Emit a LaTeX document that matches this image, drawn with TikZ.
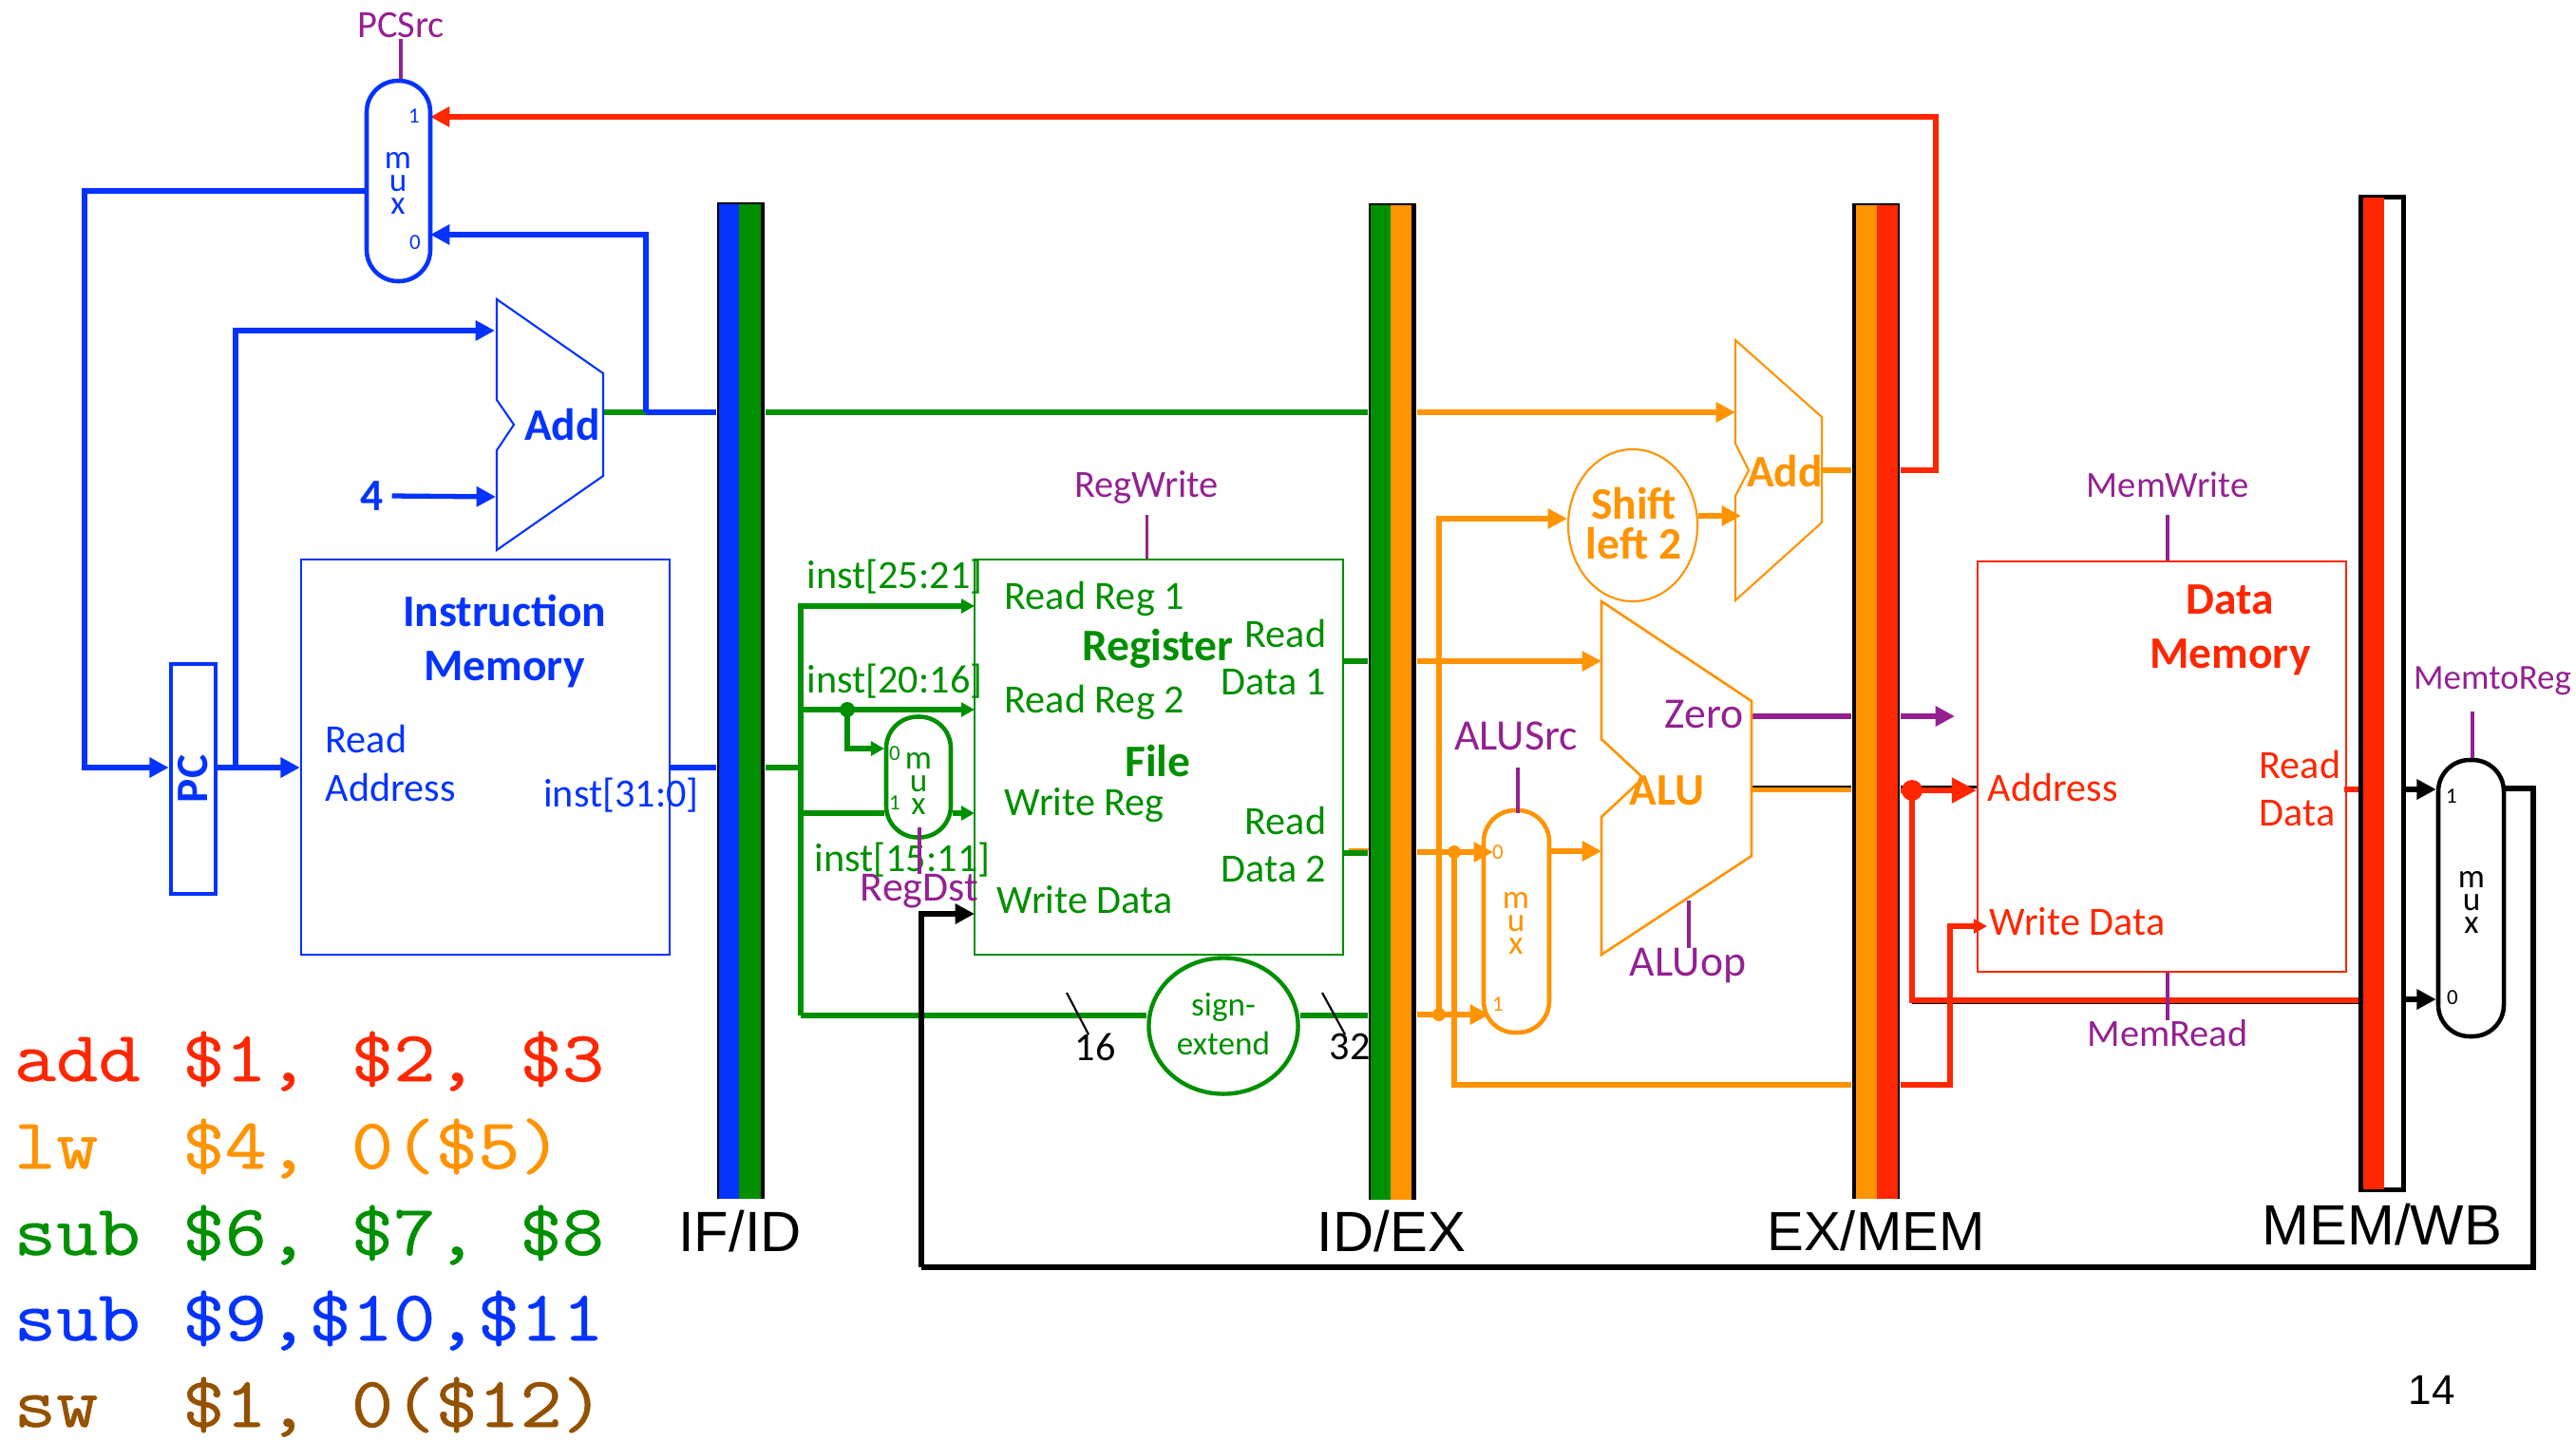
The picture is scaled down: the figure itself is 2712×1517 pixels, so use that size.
\documentclass[tikz,border=0pt]{standalone}
\usepackage{fontspec}
\setmainfont{Carlito}
\newfontfamily\headfont{Liberation Sans}
\newfontfamily\codefont[FakeStretch=1.14,FakeBold=0.6]{Latin Modern Mono}
\usetikzlibrary{arrows.meta,shapes.geometric,backgrounds}
\definecolor{stageblue}{RGB}{4,51,255}
\definecolor{stagegreen}{RGB}{0,143,0}
\definecolor{stageorange}{RGB}{255,147,0}
\definecolor{stagered}{RGB}{255,38,0}
\definecolor{stagepurple}{RGB}{148,33,146}
\definecolor{stagebrown}{RGB}{148,82,0}
\tikzset{
	wire/.style={line width=1.5pt,draw=#1},
	tip/.style={-{Triangle[length=5.8pt,width=5.8pt]}},
	smalltip/.style={-{Triangle[length=4pt,width=4.2pt]}},
	bigtip/.style={-{Triangle[length=7.4pt,width=7.4pt]}},
	signal/.style={line width=1pt,draw=stagepurple},
	outline/.style={line width=.6pt,draw=#1},
	label/.style={inner sep=0pt,text=#1,font=\fontsize{12}{14}\selectfont},
	title/.style={inner sep=0pt,text=#1,font=\fontsize{13.5}{15}\selectfont\bfseries},
	signaltext/.style={inner sep=0pt,text=stagepurple,font=\fontsize{#1}{14}\selectfont},
	muxbox/.style={draw=#1,line width=1.3pt,rounded corners=.33cm,inner sep=0pt},
	muxtext/.style={inner sep=0pt,text=#1,align=center,font=\fontsize{10}{6.85}\selectfont},
	muxport/.style={inner sep=0pt,text=#1,font=\fontsize{6.5}{7}\selectfont},
	block/.style={draw=#1,line width=.6pt,inner sep=0pt},
	pipetext/.style={inner sep=0pt,font=\headfont\fontsize{#1}{19}\selectfont},
	codetext/.style={anchor=base west,inner sep=0pt,text=#1,font=\codefont\fontsize{21.5}{24}\selectfont},
	jointdot/.style={circle,fill=#1,inner sep=0pt,minimum size=.16cm}
}
\begin{document}
\begin{tikzpicture}[x=0.01cm,y=-0.01cm]
	\useasboundingbox (0,0) rectangle (2712,1517);
	%Wire corners
	\coordinate (pcback) at (89,201);
	\coordinate (pcin) at (89,808);
	\coordinate (pcfork) at (248,808);
	\coordinate (addtop) at (248,348);
	\coordinate (addtopin) at (521,348);
	\coordinate (fourin) at (522,523);
	\coordinate (addout) at (635,434);
	\coordinate (addfork) at (680,434);
	\coordinate (muxzero) at (453,247);
	\coordinate (muxone) at (453,123);
	\coordinate (branchtop) at (2038,123);
	\coordinate (branchout) at (2038,495);
	\coordinate (trunk) at (843,808);
	\coordinate (trunktop) at (843,638);
	\coordinate (trunkbot) at (843,1069);
	\coordinate (regone) at (1026,638);
	\coordinate (regtwo) at (1026,747);
	\coordinate (regwrite) at (1026,856);
	\coordinate (regdata) at (1026,962);
	\coordinate (rtfork) at (892,747);
	\coordinate (rtdown) at (892,788);
	\coordinate (rtin) at (931,788);
	\coordinate (rdleft) at (843,856);
	\coordinate (wbcorner) at (2667,830);
	\coordinate (wbbottom) at (2667,1334);
	\coordinate (wbleft) at (970,1334);
	\coordinate (wbup) at (970,962);
	%Pipeline registers
	\foreach \regname/\cx/\top/\bot/\colA/\colB/\xa/\xb/\xc in {
		ifid/780/213/1262/stageblue/stagegreen/757/778/801,
		idex/1466/214/1263/stagegreen/stageorange/1443/1464/1486,
		exmem/1975/214/1262/stageorange/stagered/1954/1976/1998}
	{
		\node[fill=black,inner sep=0pt,minimum width=.5cm,minimum height=(\bot-\top)*0.01cm] (\regname) at (\cx,{(\top+\bot)/2}) {};
		\fill[\colA] (\xa,\top+2) rectangle (\xb,\bot);
		\fill[\colB] (\xb,\top+2) rectangle (\xc,\bot);
	}
	\node[draw=black,fill=white,line width=1.3pt,inner sep=0pt,minimum width=.45cm,minimum height=10.44cm] (memwb) at (2508,730) {};
	\fill[stagered] (2488,208) rectangle (2510,1252);
	%Adders and ALU
	\draw[outline=stageblue] (523,315)--(635,393)--(635,501)--(523,579)--(523,474)--(541,447)--(523,421)--cycle;
	\draw[outline=stageorange] (1827,358)--(1918,439)--(1918,550)--(1827,632)--(1827,522)--(1841,495)--(1827,467)--cycle;
	\draw[line width=.75pt,draw=stageorange] (1686,633)--(1844,738)--(1844,901)--(1686,1005)--(1686,860)--(1730,819)--(1686,778)--cycle;
	%Muxes
	\foreach \muxname/\muxcol/\cx/\cy/\w/\h in {
		muxpc/stageblue/419.5/190.5/67/211,
		muxrd/stagegreen/967/818/68/127,
		muxalu/stageorange/1596.5/970/69/234,
		muxwb/black/2601.5/945.5/69/291}
	{
		\node[muxbox=\muxcol,minimum width=\w*0.01cm,minimum height=\h*0.01cm] (\muxname) at (\cx,\cy) {};
	}
	\node[muxtext=stageblue] (muxpctext) at (419,193) {m\\u\\x};
	\node[muxtext=stagegreen] (muxrdtext) at (967,825) {m\\u\\x};
	\node[muxtext=stageorange] (muxalutext) at (1596,972) {m\\u\\x};
	\node[muxtext=black] (muxwbtext) at (2602,950) {m\\u\\x};
	\node[muxport=stageblue] (pcone) at (436,122) {1};
	\node[muxport=stageblue] (pczero) at (437,255) {0};
	\node[muxport=stagegreen] (rdzero) at (942,793) {0};
	\node[muxport=stagegreen] (rdone) at (942,845) {1};
	\node[muxport=stageorange] (alzero) at (1577,897) {0};
	\node[muxport=stageorange] (alone) at (1577,1057) {1};
	\node[muxport=black] (wbone) at (2581,838) {1};
	\node[muxport=black] (wbzero) at (2582,1050) {0};
	%Blocks
	\node[draw=stageblue,line width=1.3pt,inner sep=0pt,minimum width=.47cm,minimum height=2.42cm] (pcbox) at (203.5,820) {};
	\node[title=stageblue,rotate=90] (pctext) at (203,820) {PC};
	\node[block=stageblue,minimum width=3.88cm,minimum height=4.16cm] (instmem) at (511,797) {};
	\node[block=stagegreen,minimum width=3.875cm,minimum height=4.16cm] (regfile) at (1220,797) {};
	\node[block=stagered,minimum width=3.88cm,minimum height=4.32cm] (datamem) at (2276,807) {};
	\node[ellipse,draw=stagegreen,line width=1.25pt,inner sep=0pt,minimum width=1.57cm,minimum height=1.43cm] (signext) at (1288,1080) {};
	\node[ellipse,draw=stageorange,line width=.6pt,inner sep=0pt,minimum width=1.36cm,minimum height=1.6cm] (shifttwo) at (1719,553) {};
	\node[jointdot=stagegreen] (rtdot) at (rtfork) {};
	\node[jointdot=stageorange,minimum size=.14cm] (dotone) at (1531,897) {};
	\node[jointdot=stageorange,minimum size=.14cm] (dottwo) at (1515,1068) {};
	\node[jointdot=stagered,minimum size=.22cm] (dotthree) at (2013,832) {};
	%Text
	\node[signaltext=11.5] (pcsrctext) at (422,27) {PCSrc};
	\node[signaltext=11.5] (regwritetext) at (1207,513) {RegWrite};
	\node[signaltext=12.5] (regdsttext) at (968,938) {RegDst};
	\node[signaltext=13] (alusrctext) at (1596,775) {ALUSrc};
	\node[signaltext=13] (aluoptext) at (1777,1016) {ALUop};
	\node[signaltext=13] (zerotext) at (1794,752) {Zero};
	\node[signaltext=11] (memwritetext) at (2282,510) {MemWrite};
	\node[signaltext=11.5] (memreadtext) at (2282,1088) {MemRead};
	\node[signaltext=10.5] (memtoregtext) at (2624,717) {MemtoReg};
	\node[title=stageblue] (addtext) at (592,447) {Add};
	\node[title=stageblue] (fournum) at (392,522) {4};
	\node[title=stageblue] (instword) at (531,643) {Instruction};
	\node[title=stageblue] (memword) at (531,705) {Memory};
	\node[label=stageblue,anchor=west] (readaddr) at (342,778) {Read};
	\node[label=stageblue,anchor=west] (addrword) at (342,829) {Address};
	\node[label=stageblue] (install) at (654,837) {inst[31:0]};
	\node[label=stagegreen] (insta) at (942,607) {inst[25:21]};
	\node[label=stagegreen] (instb) at (942,717) {inst[20:16]};
	\node[label=stagegreen] (instc) at (950,905) {inst[15:11]};
	\node[label=stagegreen,anchor=west] (regonetext) at (1057,630) {Read Reg 1};
	\node[label=stagegreen,anchor=west] (regtwotext) at (1057,739) {Read Reg 2};
	\node[label=stagegreen,anchor=west] (regwritelabel) at (1057,848) {Write Reg};
	\node[label=stagegreen,anchor=west] (regdatatext) at (1049,947) {Write Data};
	\node[label=stagegreen,anchor=east] (readonetext) at (1397,667) {Read};
	\node[label=stagegreen,anchor=east] (dataonetext) at (1397,718) {Data 1};
	\node[label=stagegreen,anchor=east] (readtwotext) at (1397,864) {Read};
	\node[label=stagegreen,anchor=east] (datatwotext) at (1397,915) {Data 2};
	\node[title=stagegreen] (regword) at (1219,683) {Register};
	\node[title=stagegreen] (fileword) at (1219,801) {File};
	\node[inner sep=0pt,text=stagegreen,font=\fontsize{10}{12}\selectfont] (signa) at (1288,1060) {sign-};
	\node[inner sep=0pt,text=stagegreen,font=\fontsize{10}{12}\selectfont] (signb) at (1288,1098) {extend};
	\node[label=black] (widthin) at (1153,1102) {16};
	\node[label=black] (widthout) at (1421,1102) {32};
	\node[title=stageorange] (shifttext) at (1720,530) {Shift};
	\node[title=stageorange] (lefttext) at (1720,572) {left 2};
	\node[title=stageorange] (addbtext) at (1879,496) {Add};
	\node[title=stageorange] (alutext) at (1755,832) {ALU};
	\node[title=stagered] (dataword) at (2348,631) {Data};
	\node[title=stagered] (memoryword) at (2348,692) {Memory};
	\node[label=stagered,anchor=west] (addrtext) at (2092,829) {Address};
	\node[label=stagered,anchor=west] (writedatatext) at (2094,970) {Write Data};
	\node[label=stagered,anchor=west] (readtext) at (2378,805) {Read};
	\node[label=stagered,anchor=west] (datatext) at (2378,856) {Data};
	%Stage names
	\node[pipetext=17] (ifidtext) at (779,1296) {IF/ID};
	\node[pipetext=17] (idextext) at (1465,1296) {ID/EX};
	\node[pipetext=16.5] (exmemtext) at (1975,1296) {EX/MEM};
	\node[pipetext=17] (memwbtext) at (2508,1289) {MEM/WB};
	\node[inner sep=0pt,font=\headfont\fontsize{12.5}{14}\selectfont] (pagenum) at (2560,1463) {14};
	%Instructions
	\node[codetext=stagered] (codea) at (14,1138) {add~\$1,~\$2,~\$3};
	\node[codetext=stageorange] (codeb) at (14,1230) {lw~~\$4,~0(\$5)};
	\node[codetext=stagegreen] (codec) at (14,1321) {sub~\$6,~\$7,~\$8};
	\node[codetext=stageblue] (coded) at (14,1411) {sub~\$9,\$10,\$11};
	\node[codetext=stagebrown] (codee) at (14,1502) {sw~~\$1,~0(\$12)};
	%Control lines
	\draw[signal] (pcsrctext.south) -- (pcsrctext.south |- muxpc.north);
	\draw[signal] (1207.5,542) -- (regfile.north -| 1207.5,0);
	\draw[signal] (968,871) -- (968,920);
	\draw[signal] (1598,808) -- (1598,856);
	\draw[signal] (1778,948) -- (1778,998);
	\draw[signal] (2282,542) -- (datamem.north -| 2282,0);
	\draw[signal] (datamem.south -| 2282,0) -- (2282,1074);
	\draw[signal] (2603,749) -- (muxwb.north -| 2603,0);
	\begin{scope}[on background layer]
	%Fetch wires
	\draw[wire=stageblue] (muxpc.west |- pcback) -- (pcback) -- ++(0,-3);
	\draw[wire=stageblue,tip] (pcback) -- (pcin) -- (pcbox.west |- pcin);
	\draw[wire=stageblue,tip] (pcbox.east |- pcin) -- (instmem.west |- pcin);
	\draw[wire=stageblue,tip] (pcfork) -- (addtop) -- (addtopin);
	\draw[wire=stageblue,tip] (fournum.east) ++(8,0) -- (fourin);
	\draw[wire=stagegreen] (addout) -- (addfork);
	\draw[wire=stageblue,tip] (addfork) -- (addfork |- muxzero) -- (muxzero);
	\draw[wire=stageblue] (addfork) -- (ifid.west |- addfork);
	\draw[wire=stageblue] (instmem.east |- pcin) -- (ifid.west |- pcin);
	\draw[wire=stagered,tip] (exmem.east |- branchout) -- (branchout) -- (branchtop) -- (muxone);
	%Decode wires
	\draw[wire=stagegreen] (ifid.east |- addfork) -- (idex.west |- addfork);
	\draw[wire=stagegreen] (ifid.east |- trunk) -- (trunk);
	\draw[wire=stagegreen,smalltip] (trunkbot) -- (trunktop) -- (regone);
	\draw[wire=stagegreen,smalltip] (trunk |- regtwo) -- (regtwo);
	\draw[wire=stagegreen,smalltip] (rtfork) -- (rtdown) -- (rtin);
	\draw[wire=stagegreen] (rdleft) -- (muxrd.west |- rdleft);
	\draw[wire=stagegreen,smalltip] (muxrd.east |- rdleft) -- (regwrite);
	\draw[wire=stagegreen] (trunkbot) -- (signext.west |- trunkbot);
	\draw[wire=stagegreen] (signext.east |- trunkbot) -- (idex.west |- trunkbot);
	\draw[wire=stagegreen] (regfile.east |- 0,696) -- (idex.west |- 0,696);
	\draw[wire=stagegreen] (regfile.east |- 0,898) -- (idex.west |- 0,898);
	\draw[line width=.6pt,draw=stageorange] (1420,894) -- (1441,894);
	\draw[line width=.6pt] (1123,1045) -- (1146,1089);
	\draw[line width=.6pt] (1392,1045) -- (1416,1089);
	\draw[wire=black,tip] (wbleft) -- (wbup) -- (regdata);
	%Execute wires
	\draw[wire=stageorange,tip] (idex.east |- addfork) -- (1827,434);
	\draw[wire=stageorange,tip] (idex.east |- 0,696) -- (1686,696);
	\draw[wire=stageorange,tip] (idex.east |- 0,897) -- (1572,897);
	\draw[wire=stageorange,tip] (idex.east |- 0,1068) -- (1568,1068);
	\draw[wire=stageorange,tip] (1515,1068) -- (1515,546) -- (shifttwo.west |- 0,546);
	\draw[wire=stageorange,tip] (shifttwo.east |- 0,543) -- (1833,543);
	\draw[wire=stageorange] (1531,897) -- (1531,1142) -- (exmem.west |- 0,1142);
	\draw[wire=stageorange,tip] (muxalu.east |- 0,896) -- (1686,896);
	\draw[wire=stageorange] (1918,495) -- (exmem.west |- 0,495);
	\draw[line width=.6pt] (1844,828) -- (exmem.west |- 0,828);
	\draw[wire=stageorange] (1844,831.5) -- (exmem.west |- 0,831.5);
	\draw[wire=stagepurple] (1844,754) -- (exmem.west |- 0,754);
	\draw[wire=stagepurple,tip] (exmem.east |- 0,754) -- (2058,754);
	%Memory wires
	\draw[line width=.6pt] (exmem.east |- 0,828.5) -- (datamem.west |- 0,828.5);
	\draw[wire=stagered,bigtip] (exmem.east |- 0,832) -- (datamem.west |- 0,832);
	\draw[line width=.6pt] (2013,1055.5) -- (memwb.west |- 0,1055.5);
	\draw[wire=stagered] (2013,832) -- (2013,1053) -- (memwb.west |- 0,1053);
	\draw[wire=stagered,smalltip] (exmem.east |- 0,1142) -- (2053,1142) -- (2053,975) -- (2092,975);
	\draw[wire=stagered] (2468,831) -- (memwb.west |- 0,831);
	\draw[wire=black,tip] (memwb.east |- 0,831) -- (muxwb.west |- 0,831);
	\draw[wire=black,tip] (memwb.east |- 0,1052) -- (muxwb.west |- 0,1052);
	\draw[wire=black] (muxwb.east |- wbcorner) -- (wbcorner) -- (wbbottom) -- (wbleft);
	\end{scope}
\end{tikzpicture}
\end{document}
